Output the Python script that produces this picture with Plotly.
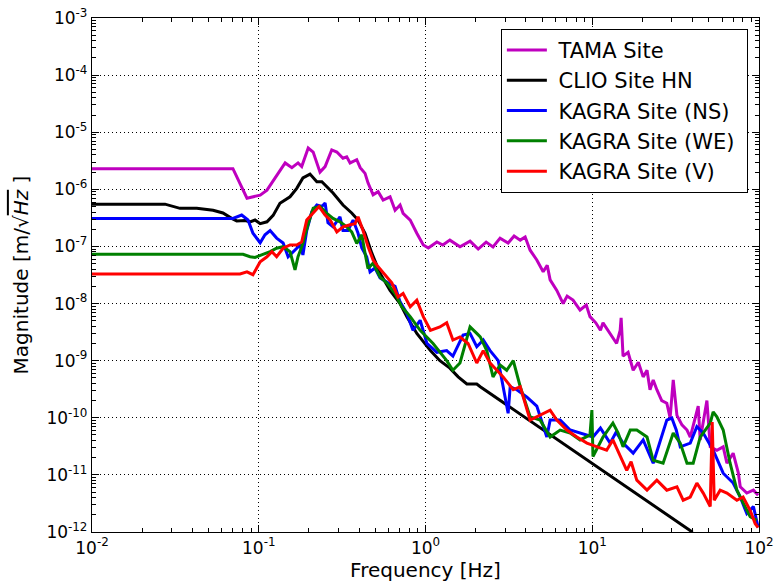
import plotly.graph_objects as go

# TAMA site
tama_f = [0.01, 0.070, 0.085, 0.102, 0.112, 0.134, 0.144, 0.158, 0.172, 0.181, 0.198, 0.212,
          0.233, 0.250, 0.274, 0.294, 0.32, 0.337, 0.353, 0.387, 0.406, 0.434, 0.452, 0.485,
          0.52, 0.557, 0.613, 0.657, 0.704, 0.734, 0.81, 0.887, 0.97, 1.04, 1.17, 1.27, 1.40,
          1.61, 1.85, 2.07, 2.31, 2.54, 2.80, 3.13, 3.40, 3.70, 3.96, 4.24, 4.65, 5.08, 5.37,
          5.59, 6.13, 6.69, 7.07, 7.67, 8.45, 9.21, 9.69, 10.5, 11.2, 11.6, 12.8, 14.0, 14.7,
          14.9, 15.3, 16.4, 17.6, 18.9, 20.2, 21.3, 22.2, 23.2, 24.4, 26.1, 28.0, 29.3, 30.6,
          32.2, 34.5, 37.0, 38.7, 43.2, 44.4, 48.7, 51.0, 55.9, 61.0, 64.2, 70.0, 75.1, 77.2,
          84.5, 92.6, 98.8]
tama_m = [2.3e-6, 2.3e-6, 7.0e-7, 7.9e-7, 9.7e-7, 2.2e-6, 2.9e-6, 2.4e-6, 2.9e-6, 2.5e-6, 5.3e-6,
          4.5e-6, 2.0e-6, 2.5e-6, 4.9e-6, 4.5e-6, 3.5e-6, 3.7e-6, 2.9e-6, 3.3e-6, 2.4e-6, 1.9e-6,
          1.3e-6, 8.0e-7, 9.1e-7, 6.5e-7, 7.4e-7, 4.3e-7, 5.3e-7, 3.8e-7, 2.9e-7, 1.7e-7, 1.06e-7,
          9.4e-8, 1.2e-7, 1.06e-7, 1.29e-7, 9.9e-8, 1.24e-7, 9.0e-8, 1.19e-7, 9.8e-8, 1.4e-7,
          1.15e-7, 1.52e-7, 1.29e-7, 1.46e-7, 8.6e-8, 5.8e-8, 3.6e-8, 4.7e-8, 2.6e-8, 1.7e-8,
          1.0e-8, 1.35e-8, 1.15e-8, 7.7e-9, 9.4e-9, 5.9e-9, 4.6e-9, 3.4e-9, 4.6e-9, 3.0e-9,
          2.0e-9, 3.4e-9, 5.6e-9, 1.2e-9, 1.4e-9, 6.8e-10, 9.4e-10, 5.2e-10, 6.8e-10, 3.1e-10,
          4.6e-10, 3.1e-10, 2.0e-10, 1.8e-10, 1.0e-10, 4.6e-10, 1.1e-10, 7.5e-11, 6.1e-11,
          4.6e-11, 1.6e-10, 4.1e-11, 2.0e-10, 3.1e-11, 2.7e-11, 3.1e-11, 1.6e-11, 2.4e-11,
          1.1e-11, 6.2e-12, 4.8e-12, 5.4e-12, 4.4e-12]

# CLIO site HN
clio_f = [0.01, 0.0274, 0.0337, 0.0425, 0.0532, 0.061, 0.0688, 0.0738, 0.0831, 0.0887, 0.095,
          0.102, 0.112, 0.122, 0.134, 0.154, 0.169, 0.184, 0.203, 0.223, 0.239, 0.279, 0.32,
          0.361, 0.394, 0.434, 0.476, 0.534, 0.613, 0.704, 0.772, 0.887, 1.07, 1.22, 1.40,
          1.57, 1.77, 2.03, 2.13, 40.0]
clio_m = [5.5e-7, 5.5e-7, 4.65e-7, 4.65e-7, 4.3e-7, 3.85e-7, 3.1e-7, 2.8e-7, 2.85e-7, 2.7e-7,
          2.9e-7, 2.5e-7, 2.7e-7, 3.5e-7, 5.7e-7, 7.4e-7, 1.04e-6, 1.58e-6, 1.85e-6, 1.36e-6,
          1.36e-6, 8.6e-7, 5.3e-7, 3.85e-7, 2.9e-7, 1.7e-7, 7.7e-8, 3.4e-8, 1.7e-8, 1.0e-8,
          5.9e-9, 3.0e-9, 1.5e-9, 1.0e-9, 7.4e-10, 5.2e-10, 3.9e-10, 3.9e-10, 3.5e-10, 9.9e-13]

# KAGRA site (NS)
ns_f = [0.01, 0.070, 0.079, 0.0862, 0.0923, 0.102, 0.109, 0.117, 0.128, 0.14, 0.15, 0.161,
        0.177, 0.184, 0.194, 0.208, 0.223, 0.239, 0.25, 0.26, 0.279, 0.307, 0.32, 0.343,
        0.368, 0.394, 0.415, 0.444, 0.465, 0.498, 0.534, 0.597, 0.657, 0.704, 0.772, 0.841,
        0.929, 1.02, 1.17, 1.34, 1.46, 1.68, 1.85, 2.03, 2.22, 2.44, 2.73, 3.13, 3.22, 3.53,
        4.06, 4.65, 5.34, 5.59, 6.42, 7.37, 8.45, 10.1, 11.2, 12.8, 13.9, 15.3, 17.6, 20.2,
        23.2, 25.6, 28.0, 30.0, 31.9, 33.7, 38.7, 42.4, 46.3, 53.1, 61.0, 70.0, 77.2, 84.5,
        92.6, 98.8]
ns_m = [3.1e-7, 3.1e-7, 3.55e-7, 2.9e-7, 1.7e-7, 1.16e-7, 1.6e-7, 1.9e-7, 1.4e-7, 1.15e-7,
        6.6e-8, 8.1e-8, 1.06e-7, 7.1e-8, 1.9e-7, 4.05e-7, 5.3e-7, 5.0e-7, 5.75e-7, 2.6e-7,
        2.2e-7, 3.3e-7, 1.9e-7, 1.9e-7, 2.9e-7, 1.7e-7, 9.4e-8, 6.6e-8, 3.6e-8, 4.2e-8, 2.8e-8,
        2.3e-8, 2.0e-8, 1.07e-8, 6.8e-9, 3.4e-9, 5.1e-9, 2.0e-9, 1.4e-9, 1.5e-9, 1.2e-9,
        2.8e-9, 3.0e-9, 1.75e-9, 2.3e-9, 1.5e-9, 1.0e-9, 1.2e-10, 3.5e-10, 3.1e-10, 2.3e-10,
        1.6e-10, 4.6e-11, 9.1e-11, 9.1e-11, 6.1e-11, 5.4e-11, 4.6e-11, 6.6e-11, 3.6e-11,
        5.6e-11, 3.6e-11, 2.4e-11, 4.1e-11, 1.6e-11, 4.1e-11, 9.1e-11, 9.9e-11, 6.1e-11,
        3.1e-11, 3.6e-11, 7.0e-11, 5.4e-11, 2.7e-11, 1.07e-11, 7.2e-12, 4.1e-12, 2.1e-12,
        2.8e-12, 1.2e-12]

# KAGRA site (WE)
we_f = [0.01, 0.0805, 0.0887, 0.095, 0.104, 0.117, 0.128, 0.14, 0.154, 0.165, 0.172, 0.184,
        0.198, 0.212, 0.233, 0.256, 0.279, 0.307, 0.337, 0.361, 0.387, 0.415, 0.434, 0.452,
        0.485, 0.534, 0.585, 0.657, 0.72, 0.81, 0.929, 1.11, 1.34, 1.46, 1.61, 1.73, 1.85,
        2.03, 2.13, 2.33, 2.54, 2.80, 3.07, 3.36, 3.70, 4.24, 4.87, 5.59, 6.42, 7.37, 8.45,
        9.69, 9.95, 10.1, 11.6, 13.3, 14.3, 15.3, 16.9, 18.5, 21.3, 23.2, 26.6, 30.6, 33.7,
        37.0, 40.3, 44.4, 51.0, 53.1, 55.9, 61.0, 67.1, 73.7, 80.3, 88.5, 96.9]
we_m = [7.3e-8, 7.3e-8, 6.6e-8, 6.4e-8, 7.1e-8, 8.1e-8, 9.3e-8, 9.9e-8, 8.1e-8, 3.9e-8, 6.6e-8,
        1.13e-7, 2.5e-7, 4.65e-7, 5.0e-7, 3.8e-7, 3.1e-7, 2.7e-7, 2.2e-7, 1.8e-7, 1.13e-7,
        1.6e-7, 7.6e-8, 4.1e-8, 5.1e-8, 2.9e-8, 2.3e-8, 1.5e-8, 8.8e-9, 5.9e-9, 3.4e-9,
        2.0e-9, 1.0e-9, 6.8e-10, 9.1e-10, 1.9e-9, 3.9e-9, 3.0e-9, 2.6e-9, 1.5e-9, 5.2e-10,
        8.4e-10, 6.8e-10, 1.0e-9, 3.5e-10, 1.04e-10, 9.1e-11, 4.6e-11, 6.1e-11, 5.4e-11,
        4.1e-11, 5.0e-11, 1.36e-10, 2.1e-11, 4.6e-11, 8.1e-11, 5.4e-11, 3.1e-11, 6.1e-11,
        6.1e-11, 4.6e-11, 1.8e-11, 1.6e-11, 5.4e-11, 3.6e-11, 1.6e-11, 1.6e-11, 4.6e-11,
        8.1e-11, 1.27e-10, 1.04e-10, 6.1e-11, 1.6e-11, 5.4e-12, 3.2e-12, 1.85e-12, 1.6e-12]

# KAGRA site (V)
v_f = [0.01, 0.0772, 0.085, 0.0923, 0.102, 0.112, 0.12, 0.128, 0.14, 0.154, 0.169, 0.181,
       0.194, 0.212, 0.23, 0.25, 0.268, 0.294, 0.32, 0.353, 0.378, 0.394, 0.422, 0.452, 0.485,
       0.52, 0.572, 0.628, 0.685, 0.734, 0.81, 0.887, 0.97, 1.07, 1.22, 1.34, 1.46, 1.61,
       1.80, 2.03, 2.22, 2.44, 2.68, 2.92, 3.36, 3.70, 4.24, 4.65, 5.59, 6.13, 7.04, 8.09,
       9.29, 10.7, 12.2, 13.3, 14.7, 16.1, 17.1, 18.5, 21.3, 24.4, 28.0, 32.2, 35.1, 38.7,
       42.4, 46.3, 51.0, 52.4, 53.9, 58.5, 64.2, 73.7, 80.3, 88.5, 94.9, 98.8]
v_m = [3.3e-8, 3.3e-8, 3.6e-8, 3.2e-8, 5.4e-8, 6.6e-8, 8.1e-8, 6.6e-8, 9.3e-8, 1.06e-7,
       1.06e-7, 1.2e-7, 2.9e-7, 3.8e-7, 5.0e-7, 3.55e-7, 2.9e-7, 1.8e-7, 2.2e-7, 2.4e-7,
       2.5e-7, 3.3e-7, 1.9e-7, 1.0e-7, 5.8e-8, 4.4e-8, 3.2e-8, 2.3e-8, 1.3e-8, 1.5e-8, 8.8e-9,
       1.15e-8, 5.9e-9, 3.4e-9, 3.9e-9, 4.6e-9, 2.3e-9, 2.6e-9, 2.0e-9, 9.1e-10, 1.5e-9,
       9.1e-10, 6.8e-10, 5.2e-10, 3.1e-10, 3.5e-10, 9.1e-11, 1.04e-10, 1.36e-10, 9.1e-11,
       6.1e-11, 4.6e-11, 3.6e-11, 3.1e-11, 2.7e-11, 4.1e-11, 2.1e-11, 1.2e-11, 1.7e-11, 8.1e-12,
       5.4e-12, 8.1e-12, 5.4e-12, 6.2e-12, 3.6e-12, 4.1e-12, 7.2e-12, 4.8e-12, 2.8e-12,
       8.4e-11, 3.6e-12, 5.4e-12, 4.8e-12, 3.6e-12, 4.1e-12, 2.4e-12, 1.4e-12, 1.2e-12]

x_ticks = [1e-2, 1e-1, 1e0, 1e1, 1e2]
x_labels = ["10<sup>-2</sup>", "10<sup>-1</sup>", "10<sup>0</sup>", "10<sup>1</sup>", "10<sup>2</sup>"]
y_ticks = [10.0 ** -e for e in range(3, 13)]
y_labels = ["10<sup>-%d</sup>" % e for e in range(3, 13)]
minor_ticks = [m * 10.0 ** e for e in range(-12, 2) for m in range(2, 10)]

series = [
    ("TAMA Site", tama_f, tama_m, "#bf00bf"),
    ("CLIO Site HN", clio_f, clio_m, "black"),
    ("KAGRA Site (NS)", ns_f, ns_m, "blue"),
    ("KAGRA Site (WE)", we_f, we_m, "green"),
    ("KAGRA Site (V)", v_f, v_m, "red"),
]

fig = go.Figure()
for i, (name, f, m, col) in enumerate(series):
    fig.add_trace(go.Scatter(x=f, y=m, mode="lines", name=" " + name + " ",
                             line=dict(color=col, width=3), legendgroup=str(i)))

axis_style = dict(
    type="log", showline=True, linecolor="black", linewidth=1.3, mirror="allticks",
    ticks="inside", ticklen=7, tickwidth=1, tickcolor="black",
    showgrid=True, gridcolor="black", gridwidth=1, griddash="1px,3px",
    zeroline=False, tickmode="array", automargin=False,
    minor=dict(ticks="inside", ticklen=4, tickcolor="black", tickmode="array",
               tickvals=minor_ticks, showgrid=False),
    tickfont=dict(size=17, color="black"),
)

fig.update_layout(
    width=776, height=586,
    margin=dict(l=92, r=17, t=18, b=54),
    paper_bgcolor="white", plot_bgcolor="white",
    font=dict(family="DejaVu Sans", size=17, color="black"),
    showlegend=True,
    legend=dict(x=0.613, y=0.979, xanchor="left", yanchor="top",
                bgcolor="white", bordercolor="black", borderwidth=1,
                font=dict(size=21), tracegroupgap=0, itemwidth=40),
)
fig.update_xaxes(axis_style, range=[-2, 2], tickvals=x_ticks, ticktext=x_labels,
                 title=dict(text="Frequency [Hz]", standoff=4))
fig.update_yaxes(axis_style, range=[-12, -3], tickvals=y_ticks, ticktext=y_labels,
                 title=dict(text="Magnitude [m/\u221a<span style='text-decoration:overline'><i>Hz</i></span> ]",
                            standoff=12))

page_fix = ("document.documentElement.style.margin='0';"
            "document.documentElement.style.overflow='hidden';"
            "document.body.style.margin='0';"
            "document.body.style.overflow='hidden';")
fig.write_html("out.html", default_width="776px", default_height="586px",
               config={"displayModeBar": False, "responsive": False},
               post_script=page_fix)
